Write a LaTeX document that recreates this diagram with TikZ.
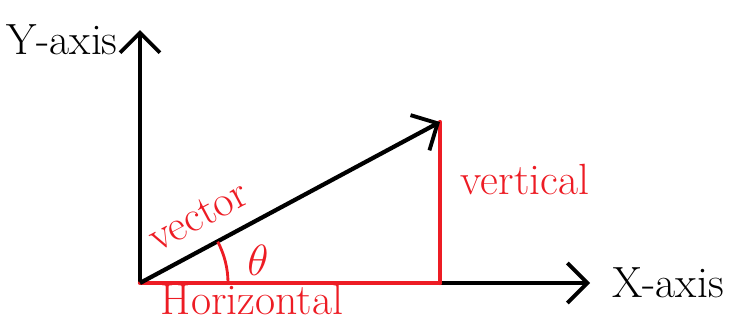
\documentclass[tikz,border=0pt]{standalone}
\usepackage{tikz}
\usetikzlibrary{positioning,arrows.meta,calc}
\definecolor{PaintRed}{RGB}{237,28,36}
\definecolor{PaintBlack}{RGB}{0,0,0}

\begin{document}
\begin{tikzpicture}[x=0.02cm, y=-0.02cm, every node/.style={font=\Huge, align=center, inner sep=0pt},
  axisline/.style={-{Straight Barb[length=4mm, width=8mm, line width=2.2pt]}, line width=2.4pt, PaintBlack},
  partline/.style={line width=2.4pt, PaintRed, line cap=round}]
  \useasboundingbox (0,0) rectangle (741,325);
  \coordinate (origin) at (140,283);
  \coordinate (ytop) at (140,30);
  \coordinate (xend) at (590,283);
  \coordinate (tip) at (440,122);
  \coordinate (foot) at (440,283);
  \draw[axisline] (origin) -- (ytop);
  \draw[axisline] (origin) -- (xend);
  \draw[partline] (origin) -- (foot);
  \draw[partline] (foot) -- (tip);
  \draw[axisline] (origin) -- (tip);
  \draw[line width=1.6pt, PaintRed] ($(origin)+(88,0)$) arc[start angle=0, end angle=-28, radius=88];
  \node (ylabel) at (62,40) {Y-axis};
  \node (xlabel) at (668,283) {X-axis};
  \node[PaintRed] (vertlabel) at (525,180) {vertical};
  \node[PaintRed, rotate=28] (veclabel) at (198,216) {vector};
  \node[PaintRed] (anglabel) at (258,260) {$\theta$};
  \node[PaintRed] (horlabel) at (252,300) {Horizontal};
\end{tikzpicture}
\end{document}
